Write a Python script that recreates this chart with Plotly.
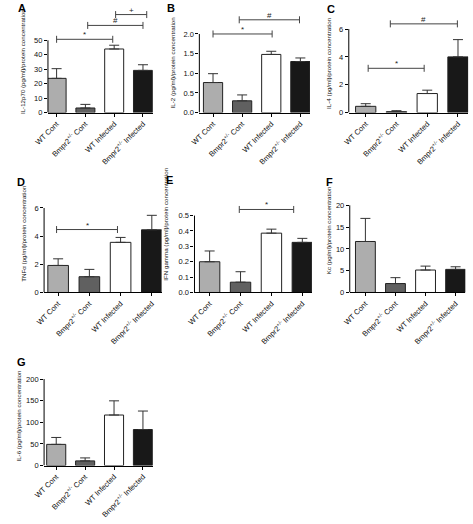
import plotly.graph_objects as go

W, H = 473, 524
FONT = "Liberation Sans, Arial, sans-serif"

# ---- data ----
groups = ["WT Cont", "Bmpr2<sup>+/-</sup> Cont", "WT Infected", "Bmpr2<sup>+/-</sup> Infected"]
bar_colors = ["#adadad", "#606060", "#ffffff", "#181818"]

il12_mean = [23.7, 3.2, 44.0, 29.2]
il12_err = [6.7, 2.5, 2.6, 3.9]
il2_mean = [0.765, 0.30, 1.48, 1.30]
il2_err = [0.225, 0.15, 0.08, 0.09]
il4_mean = [0.45, 0.07, 1.37, 4.0]
il4_err = [0.19, 0.07, 0.24, 1.24]
tnf_mean = [1.92, 1.12, 3.56, 4.45]
tnf_err = [0.47, 0.52, 0.35, 1.03]
ifn_mean = [0.20, 0.067, 0.386, 0.326]
ifn_err = [0.07, 0.068, 0.026, 0.026]
kc_mean = [11.7, 2.05, 5.15, 5.3]
kc_err = [5.3, 1.35, 0.9, 0.6]
il6_mean = [48.9, 10.7, 116.8, 83.2]
il6_err = [16.0, 6.9, 32.8, 42.8]

il12_ticks = [0, 10, 20, 30, 40, 50]
il2_ticks = [0.0, 0.5, 1.0, 1.5, 2.0]
il4_ticks = [0, 2, 4, 6]
tnf_ticks = [0, 2, 4, 6]
ifn_ticks = [0.0, 0.1, 0.2, 0.3, 0.4, 0.5]
kc_ticks = [0, 5, 10, 15, 20]
il6_ticks = [0, 50, 100, 150, 200]

# significance brackets: (symbol, from group pos, to group pos, height)
il12_sig = [("*", 0.0, 1.95, 50.7), ("#", 1.08, 3.0, 60.3), ("+", 2.05, 3.13, 67.8)]
il2_sig = [("*", 0.0, 2.03, 2.0), ("#", 0.9, 2.97, 2.36)]
il4_sig = [("*", 0.08, 1.9, 3.18), ("#", 0.8, 2.98, 6.37)]
tnf_sig = [("*", -0.05, 1.9, 4.47)]
ifn_sig = [("*", 0.96, 2.72, 0.54)]
kc_sig = []
il6_sig = []

panels = [
    dict(letter="A", title="IL-12p70 (pg/ml)/protein concentration", mean=il12_mean, err=il12_err,
         ticks=il12_ticks, fmt="{:.0f}", sig=il12_sig,
         xpx=(35, 143), xr=(-0.30, 3.34), y0=113.7, ttop_px=40.7, rmax=70.5, standoff=7,
         lpos=(2, 0)),
    dict(letter="B", title="IL-2 (pg/ml)/protein concentration", mean=il2_mean, err=il2_err,
         ticks=il2_ticks, fmt="{:.1f}", sig=il2_sig,
         xpx=(191, 305), xr=(-0.47, 3.33), y0=113.7, ttop_px=34.3, rmax=2.53, standoff=7,
         lpos=(156, 0)),
    dict(letter="C", title="IL-4 (pg/ml)/protein concentration", mean=il4_mean, err=il4_err,
         ticks=il4_ticks, fmt="{:.0f}", sig=il4_sig,
         xpx=(345, 468), xr=(-0.55, 3.33), y0=113.7, ttop_px=29.3, rmax=7.06, standoff=6,
         lpos=(320, 1)),
    dict(letter="D", title="TNF\u03b1 (pg/ml)/protein concentration", mean=tnf_mean, err=tnf_err,
         ticks=tnf_ticks, fmt="{:.0f}", sig=tnf_sig,
         xpx=(31, 152), xr=(-0.45, 3.31), y0=295.3, ttop_px=210, rmax=8.35, standoff=7,
         lpos=(1, 176)),
    dict(letter="E", title="IFN gamma (pg/ml)/protein concentration", mean=ifn_mean, err=ifn_err,
         ticks=ifn_ticks, fmt="{:.1f}", sig=ifn_sig,
         xpx=(186, 307), xr=(-0.49, 3.31), y0=295.3, ttop_px=217.7, rmax=0.887, standoff=9,
         lpos=(155, 174)),
    dict(letter="F", title="Kc (pg/ml)/protein concentration", mean=kc_mean, err=kc_err,
         ticks=kc_ticks, fmt="{:.0f}", sig=kc_sig,
         xpx=(346, 465), xr=(-0.52, 3.32), y0=295.3, ttop_px=207.3, rmax=28.5, standoff=3,
         lpos=(319, 176)),
    dict(letter="G", title="IL-6 (pg/ml)/protein concentration", mean=il6_mean, err=il6_err,
         ticks=il6_ticks, fmt="{:.0f}", sig=il6_sig,
         xpx=(31, 143), xr=(-0.42, 3.34), y0=470, ttop_px=382.7, rmax=229, standoff=3,
         lpos=(1, 357)),
]

fig = go.Figure()
shapes = []
annotations = []
layout_axes = {}

for i, p in enumerate(panels, start=1):
    xs = "" if i == 1 else str(i)
    xname, yname = "x" + xs, "y" + xs
    ttop = p["ticks"][-1]
    pxu = (p["y0"] - p["ttop_px"]) / ttop
    ytop_px = p["y0"] - p["rmax"] * pxu
    xdom = [p["xpx"][0] / W, p["xpx"][1] / W]
    ydom = [1 - p["y0"] / H, 1 - ytop_px / H]

    fig.add_trace(go.Bar(
        x=[0, 1, 2, 3], y=p["mean"], width=0.66,
        marker=dict(color=bar_colors, line=dict(color="#222222", width=1)),
        error_y=dict(type="data", symmetric=False, array=p["err"], arrayminus=[0, 0, 0, 0],
                     color="#333333", thickness=1, width=5),
        xaxis=xname, yaxis=yname, showlegend=False, hoverinfo="skip",
    ))

    for sym, a, b, h in p["sig"]:
        fig.add_trace(go.Scatter(
            x=[a, b], y=[h, h], mode="lines+markers",
            line=dict(color="#444444", width=1),
            marker=dict(symbol="line-ns", size=5, line=dict(color="#444444", width=1)),
            xaxis=xname, yaxis=yname, showlegend=False, hoverinfo="skip",
        ))
        annotations.append(dict(
            x=(a + b) / 2, y=h, xref=xname, yref=yname, text=sym, showarrow=False,
            yanchor="bottom", yshift=-2, font=dict(size=8, color="#222222", family=FONT),
        ))

    # y axis line only up to the top tick
    shapes.append(dict(type="line", xref=xname + " domain", x0=0, x1=0,
                       yref=yname, y0=0, y1=ttop, line=dict(color="#000000", width=1)))

    layout_axes["xaxis" + xs] = dict(
        domain=xdom, anchor=yname, range=list(p["xr"]),
        tickvals=[0, 1, 2, 3], ticktext=groups, tickangle=-45,
        showline=True, linecolor="#000000", linewidth=1,
        ticks="outside", ticklen=3, tickcolor="#000000", tickwidth=1,
        showgrid=False, zeroline=False,
        tickfont=dict(size=7.5, color="#111111", family=FONT),
    )
    layout_axes["yaxis" + xs] = dict(
        domain=ydom, anchor=xname, range=[0, p["rmax"]],
        tickvals=p["ticks"], ticktext=[p["fmt"].format(v) for v in p["ticks"]],
        showline=False, ticks="outside", ticklen=3, tickcolor="#000000", tickwidth=1,
        showgrid=False, zeroline=False,
        tickfont=dict(size=7.5, color="#111111", family=FONT),
        title=dict(text=p["title"], standoff=p["standoff"],
                   font=dict(size=6.2, color="#111111", family=FONT)),
    )

    annotations.append(dict(
        x=p["lpos"][0] / W, y=1 - p["lpos"][1] / H, xref="paper", yref="paper",
        text="<b>" + p["letter"] + "</b>", showarrow=False, xanchor="left", yanchor="top",
        font=dict(size=11, color="#000000", family=FONT),
    ))

fig.update_layout(
    width=W, height=H, margin=dict(l=0, r=0, t=0, b=0),
    paper_bgcolor="#ffffff", plot_bgcolor="rgba(0,0,0,0)",
    font=dict(family=FONT), shapes=shapes, annotations=annotations,
    bargap=0, **layout_axes,
)

fig.write_html(
    "out.html",
    config={"displayModeBar": False, "staticPlot": True},
    post_script="document.body.style.margin='0';document.body.style.overflow='hidden';",
)
